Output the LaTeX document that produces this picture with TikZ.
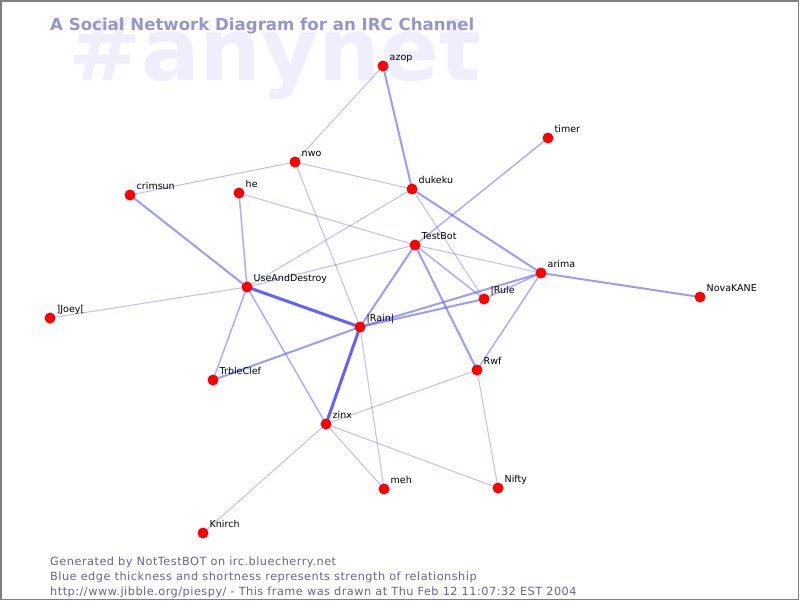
\documentclass[tikz,border=0pt]{standalone}
\usepackage{fontspec}
\setmainfont{DejaVu Sans}
\usepackage{xcolor}
\usepackage{tikz}
\definecolor{edgeblue}{RGB}{90,90,255}
\definecolor{titleblue}{RGB}{150,150,204}
\definecolor{markblue}{RGB}{238,238,252}
\definecolor{footblue}{RGB}{100,100,150}
\pgfdeclarelayer{bg}
\pgfdeclarelayer{edges}
\pgfsetlayers{bg,edges,main}
\tikzset{
  nick/.style={anchor=base west,inner sep=0pt,xshift=2.5pt,yshift=1pt,font=\fontsize{9.5}{9.5}\selectfont},
  dot/.style={circle,fill=red,inner sep=0pt,minimum size=11pt},
  foot/.style={anchor=base west,inner sep=0,text=footblue,font=\fontsize{11.3}{11.3}\selectfont\addfontfeature{LetterSpace=4.4}},
  w1/.style={edgeblue,line width=1pt,opacity=.4},
  w2/.style={edgeblue,line width=1.5pt,opacity=.5},
  w3/.style={edgeblue,line width=2pt,opacity=.6},
  w4/.style={edgeblue,line width=3pt,opacity=.95}
}

\begin{document}
\begin{tikzpicture}[x=1pt,y=-1pt]
\useasboundingbox (0,0) rectangle (800,600);
\begin{pgfonlayer}{bg}
      \fill[white] (0,0) rectangle (800,600);
      \draw[gray,line width=1.5pt] (0.75,0.75) rectangle (798.5,599.25);
      \node[anchor=base west,inner sep=0,text=markblue,font=\fontsize{87}{87}\bfseries] (mark) at (68,80) {\#anynet};
      \node[anchor=base west,inner sep=0,text=titleblue,font=\fontsize{16.6}{16.6}\bfseries] (title) at (50,30) {A Social Network Diagram for an IRC Channel};
\end{pgfonlayer}

% the people
\node[dot,label={[nick]north east:azop}] (azop) at (383,66) {};
\node[dot,label={[nick]north east:timer}] (timer) at (548,138) {};
\node[dot,label={[nick]north east:nwo}] (nwo) at (295,162) {};
\node[dot,label={[nick]north east:crimsun}] (crimsun) at (130,195) {};
\node[dot,label={[nick]north east:he}] (he) at (239,193) {};
\node[dot,label={[nick]north east:dukeku}] (dukeku) at (412,189) {};
\node[dot,label={[nick]north east:TestBot}] (testbot) at (415,245) {};
\node[dot,label={[nick]north east:arima}] (arima) at (541,273) {};
\node[dot,label={[nick]north east:NovaKANE}] (novakane) at (700,297) {};
\node[dot,label={[nick]north east:UseAndDestroy}] (useanddestroy) at (247,287) {};
\node[dot,label={[nick]north east:{]Joey[}}] (joey) at (50,318) {};
\node[dot,label={[nick]north east:|Rule}] (rule) at (484,299) {};
\node[dot,label={[nick]north east:|Rain|}] (rain) at (360,327) {};
\node[dot,label={[nick]north east:TrbleClef}] (trbleclef) at (213,380) {};
\node[dot,label={[nick]north east:Rwf}] (rwf) at (477,370) {};
\node[dot,label={[nick]north east:zinx}] (zinx) at (326,424) {};
\node[dot,label={[nick]north east:meh}] (meh) at (384,489) {};
\node[dot,label={[nick]north east:Nifty}] (nifty) at (498,488) {};
\node[dot,label={[nick]north east:Knirch}] (knirch) at (203,533) {};

% the links
\begin{pgfonlayer}{edges}
      \draw[w4] (useanddestroy.center) -- (rain.center);
      \draw[w4] (rain.center) -- (zinx.center);
      \foreach \a/\b in {trbleclef/rain,testbot/rwf,dukeku/arima,arima/novakane,azop/dukeku,testbot/rain,rain/rule,rain/arima,crimsun/useanddestroy}
        \draw[w3] (\a.center) -- (\b.center);
      \foreach \a/\b in {arima/rwf,timer/testbot,he/useanddestroy,useanddestroy/trbleclef,useanddestroy/zinx,testbot/rule,arima/rule}
        \draw[w2] (\a.center) -- (\b.center);
      \foreach \a/\b in {azop/nwo,nwo/crimsun,nwo/dukeku,nwo/rain,rain/meh,he/testbot,dukeku/useanddestroy,dukeku/rule,testbot/useanddestroy,testbot/arima,joey/useanddestroy,rwf/zinx,rwf/nifty,zinx/nifty,zinx/meh,zinx/knirch}
        \draw[w1] (\a.center) -- (\b.center);
\end{pgfonlayer}

\node[foot] (foot1) at (50,565) {Generated by NotTestBOT on irc.bluecherry.net};
\node[foot] (foot2) at (50,580) {Blue edge thickness and shortness represents strength of relationship};
\node[foot] (foot3) at (50,595) {http://www.jibble.org/piespy/ - This frame was drawn at Thu Feb 12 11:07:32 EST 2004};
\end{tikzpicture}
\end{document}
